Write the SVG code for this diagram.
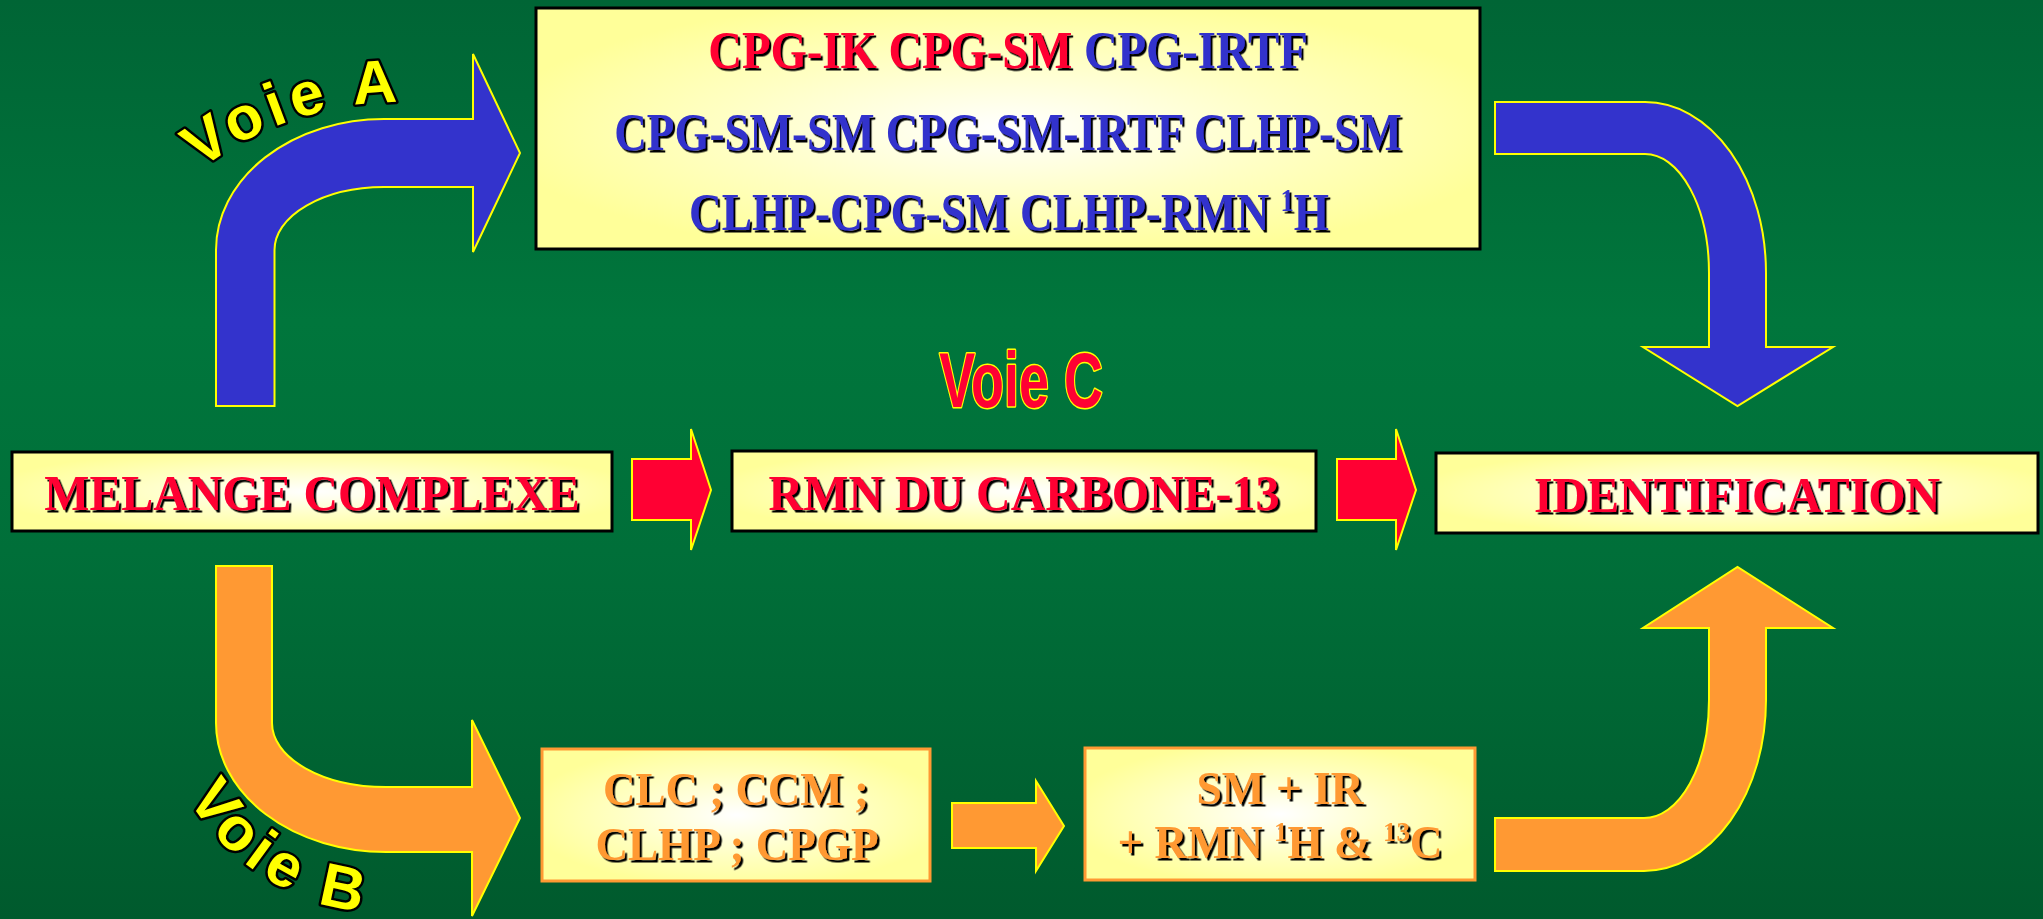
<svg xmlns="http://www.w3.org/2000/svg" width="2043" height="919" viewBox="0 0 2043 919">
  <defs>
    <linearGradient id="bg" x1="0" y1="0" x2="0" y2="1">
      <stop offset="0" stop-color="#006535"/>
      <stop offset="0.35" stop-color="#00763C"/>
      <stop offset="0.6" stop-color="#006F39"/>
      <stop offset="1" stop-color="#005A2D"/>
    </linearGradient>
    <radialGradient id="boxfill" cx="50%" cy="50%" r="55%">
      <stop offset="0" stop-color="#FFFFFF"/>
      <stop offset="0.55" stop-color="#FFFFC4"/>
      <stop offset="1" stop-color="#FFFF99"/>
    </radialGradient>
    <filter id="sh" x="-5%" y="-30%" width="110%" height="160%">
      <feDropShadow dx="2.5" dy="2.5" stdDeviation="0" flood-color="#000000" flood-opacity="1"/>
    </filter>
    <path id="arcA" d="M152.5,214 A330,330 0 0 1 513,122"/>
    <path id="arcB" d="M169.2,758.7 A236,236 0 0 0 509,882.4"/>
    <style>
      .box { fill: url(#boxfill); stroke: #000000; stroke-width: 3; }
      .obox { fill: url(#boxfill); stroke: #FF9933; stroke-width: 3; }
      .t { font-family: "Liberation Serif", "Times New Roman", serif; font-weight: bold; filter: url(#sh); text-anchor: middle; }
      .red { fill: #FF0033; }
      .blue { fill: #3333CC; }
      .orange { fill: #FF9933; }
      .ablue { fill: #3333CC; stroke: #FFFF00; stroke-width: 2; }
      .aorange { fill: #FF9933; stroke: #FFFF00; stroke-width: 2; }
      .ared { fill: #FF0033; stroke: #FFFF00; stroke-width: 2; }
      .voie { font-family: "Liberation Sans", Arial, sans-serif; font-weight: bold; font-size: 61px; fill: #FFFF00; stroke: #000000; stroke-width: 5; paint-order: stroke; stroke-linejoin: round; letter-spacing: 5.8px; }
      .voiec { font-family: "Liberation Sans", Arial, sans-serif; font-weight: bold; font-size: 77px; fill: #FF0033; stroke: #FFFF00; stroke-width: 3; paint-order: stroke; stroke-linejoin: round; text-anchor: middle; }
    </style>
  </defs>

  <rect x="0" y="0" width="2043" height="919" fill="url(#bg)"/>

  <g id="connectors">
    <path id="arrow-voie-a-in" class="ablue" d="M216,406 L216,250 A168,131 0 0 1 384,119 L473,119 L473,54 L520,153 L473,252 L473,187 L384,187 A110,63 0 0 0 274.5,250 L274.5,406 Z"/>
    <path id="arrow-voie-a-out" class="ablue" d="M1495,102 L1645,102 A121,171 0 0 1 1766,273 L1766,347 L1833,347 L1737.5,406 L1643,347 L1709,347 L1709,273 A64,119 0 0 0 1645,154 L1495,154 Z"/>
    <path id="arrow-voie-b-in" class="aorange" d="M216,566 L272,566 L272,723 A114,64 0 0 0 386,787 L472,787 L472,720 L520,818 L472,916 L472,852 L386,852 A170,129 0 0 1 216,723 Z"/>
    <path id="arrow-voie-b-out" class="aorange" d="M1495,818 L1644,818 A65,118 0 0 0 1709,700 L1709,628 L1643,628 L1737.5,567 L1833,628 L1766,628 L1766,700 A122,171 0 0 1 1644,871 L1495,871 Z"/>
    <path id="arrow-voie-b-mid" class="aorange" d="M952,803 L1036,803 L1036,781 L1064,826 L1036,871 L1036,848 L952,848 Z"/>
    <path id="arrow-voie-c-1" class="ared" d="M632,459 L691,459 L691,429 L711,490 L691,550 L691,520 L632,520 Z"/>
    <path id="arrow-voie-c-2" class="ared" d="M1337,459 L1396,459 L1396,429 L1416,490 L1396,550 L1396,520 L1337,520 Z"/>
  </g>

  <g id="labels">
    <text id="label-voie-a" class="voie"><textPath href="#arcA" startOffset="65.5">Voie A</textPath></text>
    <text id="label-voie-b" class="voie"><textPath href="#arcB" startOffset="43">Voie B</textPath></text>
    <text id="label-voie-c" class="voiec" transform="translate(1021,406.5) scale(0.7,1)">Voie C</text>
  </g>

  <g id="node-voie-a-methods">
    <rect class="box" x="536" y="8" width="944" height="241"/>
    <text class="t" font-size="53" transform="translate(1008,68) scale(0.88,1)"><tspan class="red">CPG-IK CPG-SM </tspan><tspan class="blue">CPG-IRTF</tspan></text>
    <text class="t blue" font-size="53" transform="translate(1008,150) scale(0.85,1)">CPG-SM-SM CPG-SM-IRTF CLHP-SM</text>
    <text class="t blue" font-size="53" transform="translate(1009,230) scale(0.855,1)">CLHP-CPG-SM CLHP-RMN <tspan font-size="31" dy="-19">1</tspan><tspan dy="19">H</tspan></text>
  </g>

  <g id="node-melange">
    <rect class="box" x="12" y="452" width="600" height="79"/>
    <text class="t red" font-size="50" transform="translate(312,510) scale(0.957,1)">MELANGE COMPLEXE</text>
  </g>

  <g id="node-rmn13c">
    <rect class="box" x="732" y="451" width="584" height="80"/>
    <text class="t red" font-size="50" transform="translate(1024,510) scale(0.958,1)">RMN DU CARBONE-13</text>
  </g>

  <g id="node-identification">
    <rect class="box" x="1436" y="453" width="602" height="80"/>
    <text class="t red" font-size="50" transform="translate(1737,512) scale(0.958,1)">IDENTIFICATION</text>
  </g>

  <g id="node-separation">
    <rect class="obox" x="542" y="749" width="388" height="132"/>
    <text class="t orange" font-size="47" transform="translate(736,805) scale(0.957,1)">CLC ; CCM ;</text>
    <text class="t orange" font-size="47" transform="translate(737,860) scale(0.96,1)">CLHP ; CPGP</text>
  </g>

  <g id="node-spectro">
    <rect class="obox" x="1085" y="748" width="390" height="132"/>
    <text class="t orange" font-size="47" transform="translate(1280,804) scale(0.965,1)">SM + IR</text>
    <text class="t orange" font-size="47" transform="translate(1280,858) scale(0.963,1)">+ RMN <tspan font-size="28" dy="-17">1</tspan><tspan dy="17">H &amp; </tspan><tspan font-size="28" dy="-17">13</tspan><tspan dy="17">C</tspan></text>
  </g>
</svg>
